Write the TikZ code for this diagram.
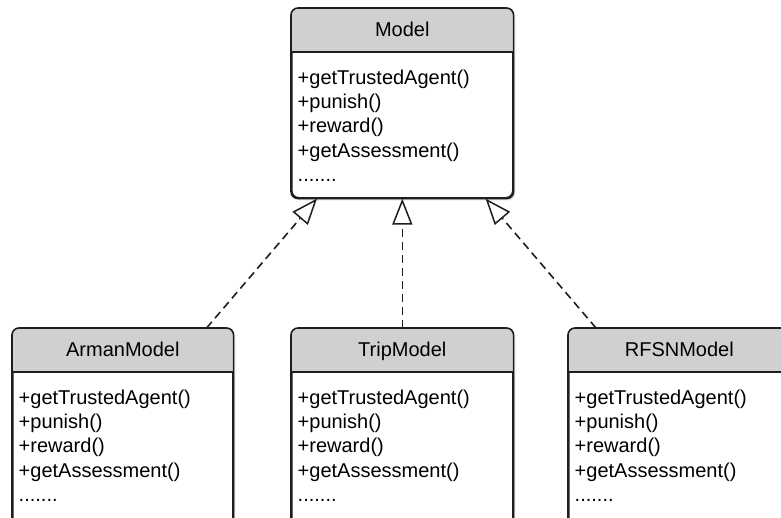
\documentclass[tikz,border=0pt]{standalone}
\usepackage{fontspec}
\setmainfont{Liberation Sans}
\usetikzlibrary{arrows.meta,shadows,calc}
\definecolor{headgray}{HTML}{D0D0D0}
\definecolor{edgecol}{HTML}{1E1E1E}
\tikzset{
  classbox/.style={draw=edgecol, line width=1.6pt, rounded corners=7pt, fill=white,
    inner sep=0pt, anchor=north west,
    drop shadow={opacity=0.25, shadow xshift=2.5pt, shadow yshift=-2.5pt}},
  classtitle/.style={font=\fontsize{20}{24}\selectfont, inner sep=0pt, text height=14.5pt, text depth=4pt},
  members/.style={font=\fontsize{20}{24.3}\selectfont, align=left, inner sep=0pt, anchor=north west},
  realize/.style={draw=edgecol, line width=1.6pt, dash pattern=on 8pt off 5pt,
    -{Triangle[length=26pt, width=20pt, fill=white, line width=1.5pt]}}
}
\newcommand{\umlclass}[6]{% name, x, y, w, h, title
  \node[classbox, minimum width=#4pt, minimum height=#5pt] (#1) at (#2,#3) {};
  \begin{scope}
    \clip[rounded corners=7pt] (#1.north west) rectangle (#1.south east);
    \fill[headgray] (#1.north west) rectangle ($(#1.north east)+(0,44)$);
  \end{scope}
  \draw[edgecol, line width=1.6pt] ($(#1.north west)+(0,44)$) -- ($(#1.north east)+(0,44)$);
  \draw[edgecol, line width=1.6pt, rounded corners=7pt] (#1.north west) rectangle (#1.south east);
  \node[classtitle] (#1-title) at ($(#1.north)+(0,23)$) {#6};
  \node[members] (#1-members) at ($(#1.north west)+(6.5,61.5)$)
    {+getTrustedAgent()\\+punish()\\+reward()\\+getAssessment()\\.......};
}
\begin{document}
\begin{tikzpicture}[x=1pt, y=-1pt]
\useasboundingbox (0,0) rectangle (781,517);
\clip (0,0) rectangle (781,517);
\umlclass{model}{291}{8}{221}{189}{Model}
\umlclass{arman}{12}{328}{220}{210}{ArmanModel}
\umlclass{trip}{291}{328}{221}{210}{TripModel}
\umlclass{rfsn}{568}{328}{221}{210}{RFSNModel}
\draw[realize] ($(arman.north east)+(-27,0)$) -- ($(model.south west)+(26,0)$);
\draw[realize] (trip.north) -- (model.south);
\draw[realize] ($(rfsn.north west)+(28,0)$) -- ($(model.south east)+(-28,0)$);
\end{tikzpicture}
\end{document}
